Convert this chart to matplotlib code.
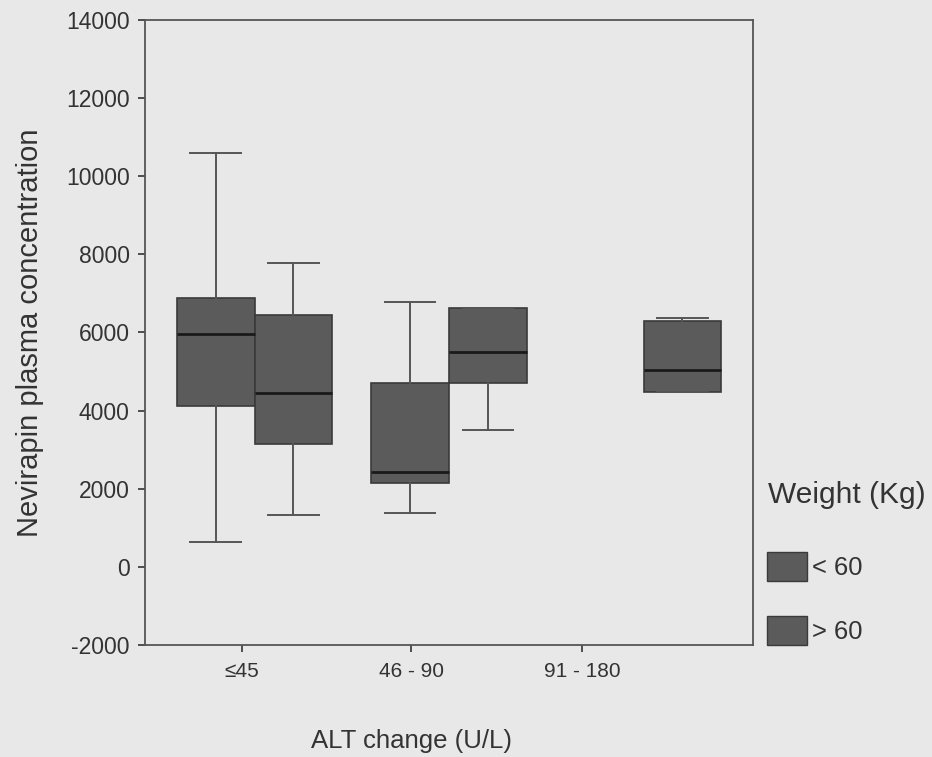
import matplotlib.pyplot as plt
from matplotlib.patches import Patch

plt.rcParams['font.family'] = ['Liberation Sans', 'DejaVu Sans']
plt.rcParams['axes.unicode_minus'] = False

# ALT change groups and weight groups
groups = ['≤45', '46 - 90', '91 - 180']
weights = ['< 60', '> 60']

# box statistics (whislo, q1, med, q3, whishi)
lt60_stats = [
    [640, 4120, 5960, 6890, 10600],
    [1370, 2140, 2420, 4710, 6790],
    None,
]
gt60_stats = [
    [1320, 3150, 4450, 6440, 7770],
    [3500, 4710, 5500, 6620, 6620],
    [4480, 4480, 5040, 6290, 6360],
]

box_color = '#5b5b5b'
bg = '#e8e8e8'
txt = '#333333'

fig = plt.figure(figsize=(9.32, 7.57), dpi=100, facecolor=bg)
ax = fig.add_axes([0.1556, 0.148, 0.6524, 0.8256], facecolor=bg)

def to_bxp(stats):
    lo, q1, med, q3, hi = stats
    return {'whislo': lo, 'q1': q1, 'med': med, 'q3': q3, 'whishi': hi, 'fliers': []}

offset = 0.2
width = 0.4
for i in range(len(groups)):
    for stats, side in ((lt60_stats[i], -1), (gt60_stats[i], 1)):
        if stats is None:
            continue
        ax.bxp([to_bxp(stats)], positions=[i + side * offset], widths=width,
               patch_artist=True, showfliers=False,
               boxprops=dict(facecolor=box_color, edgecolor='#3a3a3a', linewidth=1.2),
               medianprops=dict(color='#1a1a1a', linewidth=2),
               whiskerprops=dict(color='#555555', linewidth=1.4),
               capprops=dict(color='#555555', linewidth=1.4),
               capwidths=0.26)

ax.set_xlim(-0.563, 2.563)
ax.set_ylim(-2000, 14000)
ax.set_yticks(range(-2000, 14001, 2000))
ax.set_xticks([-0.066, 0.805, 1.684])
ax.set_xticklabels(groups)
ax.tick_params(axis='both', colors=txt, length=5, width=1.2)
ax.tick_params(axis='y', pad=6, labelsize=16.5)
ax.tick_params(axis='x', pad=7.5, labelsize=15)
for s in ax.spines.values():
    s.set_color('#555555')
    s.set_linewidth(1.3)

ax.set_ylabel('Nevirapin plasma concentration', fontsize=21, color=txt, labelpad=16)
ax.set_xlabel('ALT change (U/L)', fontsize=18.5, color=txt, labelpad=34)
ax.xaxis.label.set_x(0.439)

fig.text(0.824, 0.346, 'Weight (Kg)', fontsize=21.5, color=txt, va='center', ha='left')
handles = [Patch(facecolor=box_color, edgecolor='#3a3a3a', label=w) for w in weights]
leg = fig.legend(handles=handles, loc='upper left',
                 bbox_to_anchor=(0.8234, 0.2708), frameon=False, fontsize=18.4,
                 handlelength=1.56, handleheight=1.37, borderpad=0,
                 labelspacing=1.38, handletextpad=0.2, borderaxespad=0)
for t in leg.get_texts():
    t.set_color(txt)

fig.savefig('out.png', dpi=100, facecolor=bg)
